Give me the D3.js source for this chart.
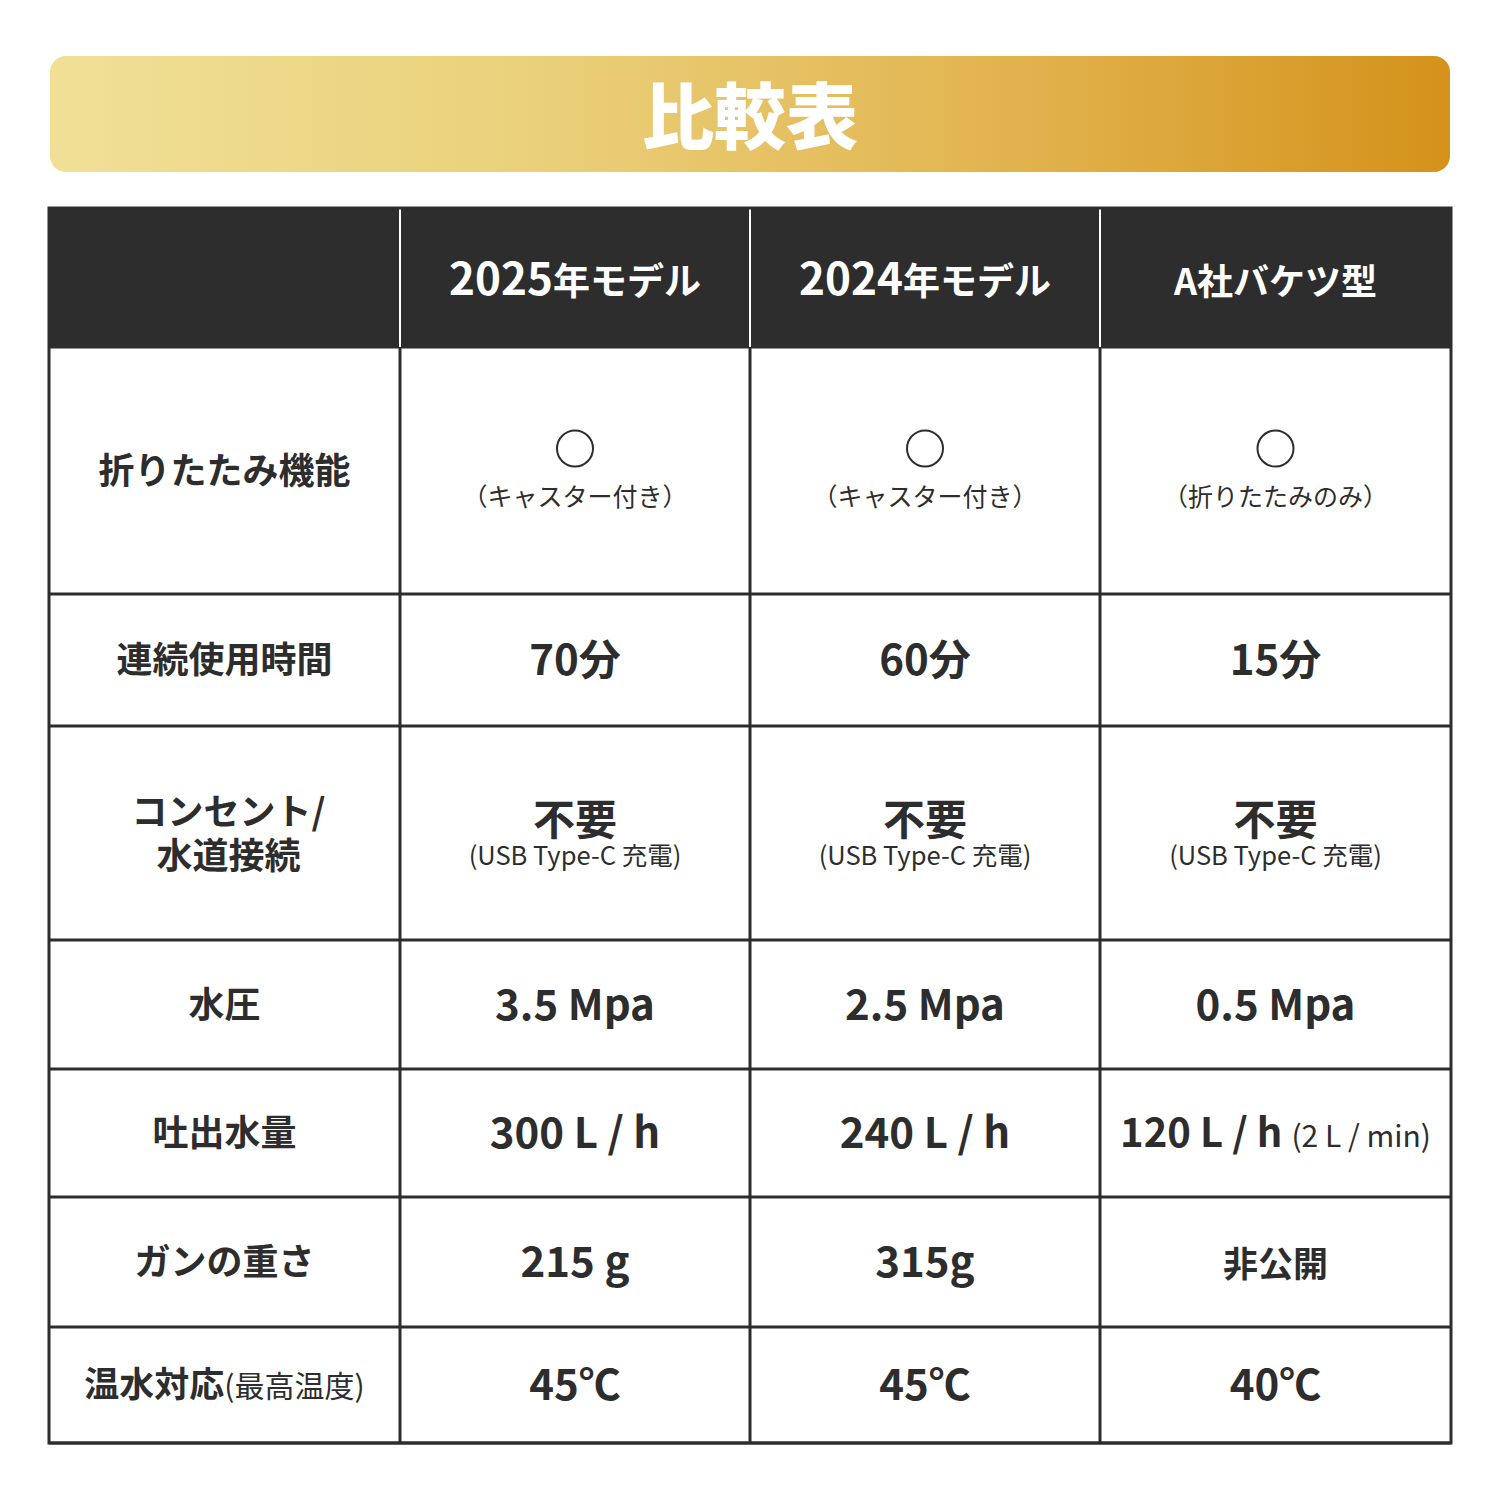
<!DOCTYPE html>
<html><head><meta charset="utf-8">
<script src="https://cdn.jsdelivr.net/npm/d3@7"></script>
<style>body{margin:0;background:#fff}svg{display:block}text{font-family:"Noto Sans CJK JP","Noto Sans",sans-serif}</style>
</head><body><svg id="c" width="1500" height="1500"></svg>
<script>
const title = "比較表";
const columns = ["", "2025年モデル", "2024年モデル", "A社バケツ型"];
const rowLabels = [["折りたたみ機能"], ["連続使用時間"], ["コンセント/", "水道接続"], ["水圧"], ["吐出水量"], ["ガンの重さ"], ["温水対応", "(最高温度)"]];
const model2025 = ["○|（キャスター付き）", "70分", "不要|(USB Type-C 充電)", "3.5 Mpa", "300 L / h", "215 g", "45℃"];
const model2024 = ["○|（キャスター付き）", "60分", "不要|(USB Type-C 充電)", "2.5 Mpa", "240 L / h", "315g", "45℃"];
const bucketA = ["○|（折りたたみのみ）", "15分", "不要|(USB Type-C 充電)", "0.5 Mpa", "120 L / h|(2 L / min)", "非公開", "40℃"];
const series = [model2025, model2024, bucketA];

const svg = d3.select("#c");
const defs = svg.append("defs");
const g = defs.append("linearGradient").attr("id","gold");
[[0,"#f0e096"],[0.35,"#ead07a"],[0.7,"#e1b24c"],[1,"#d4921a"]].forEach(([o,c])=>g.append("stop").attr("offset",o).attr("stop-color",c));
svg.append("rect").attr("x",50).attr("y",56).attr("width",1400).attr("height",116).attr("rx",16).attr("fill","url(#gold)");
svg.append("text").attr("x",750).attr("y",143).attr("text-anchor","middle").attr("font-size",72).attr("font-weight",900).attr("fill","#fff").text(title);

const colEdges = [49, 400, 750, 1100, 1451];
const rowEdges = [208, 347, 594, 726, 940, 1069, 1197, 1327, 1443];
const x = i => colEdges[i], y = i => rowEdges[i];
const cx = i => (x(i)+x(i+1))/2, cy = i => (y(i)+y(i+1))/2;
const ink = "#2d2d2d";

svg.append("rect").attr("x",x(0)).attr("y",y(0)).attr("width",x(4)-x(0)).attr("height",y(1)-y(0)).attr("fill",ink);
for (let r=1;r<rowEdges.length;r++) svg.append("line").attr("x1",x(0)).attr("x2",x(4)).attr("y1",y(r)).attr("y2",y(r)).attr("stroke",ink).attr("stroke-width",3);
colEdges.forEach((cx0,i)=>{
  svg.append("line").attr("x1",cx0).attr("x2",cx0).attr("y1",y(0)).attr("y2",y(8)).attr("stroke",(i>0&&i<4)?"#fff":ink).attr("stroke-width",2);
  if(i>0&&i<4) svg.append("line").attr("x1",cx0).attr("x2",cx0).attr("y1",y(1)).attr("y2",y(8)).attr("stroke",ink).attr("stroke-width",3);
});
svg.append("rect").attr("x",x(0)).attr("y",y(0)).attr("width",x(4)-x(0)).attr("height",y(8)-y(0)).attr("fill","none").attr("stroke",ink).attr("stroke-width",3);

columns.forEach((c,i)=>{ if(!c) return;
  const t = svg.append("text").attr("x",cx(i)).attr("y",y(0)+87).attr("text-anchor","middle").attr("fill","#fff").attr("font-weight",700);
  const m = c.match(/^(\d+)(.*)$/);
  if(m){ t.append("tspan").attr("font-size",44).text(m[1]); t.append("tspan").attr("font-size",37).text(m[2]); }
  else t.attr("font-size",36).text(c);
});

rowLabels.forEach((lab,r)=>{
  const yc = cy(r+1);
  if (r===6) {
    const t = svg.append("text").attr("x",cx(0)).attr("y",yc+12).attr("text-anchor","middle").attr("fill",ink);
    t.append("tspan").attr("font-size",35).attr("font-weight",700).text(lab[0]);
    t.append("tspan").attr("font-size",30).attr("font-weight",400).text(lab[1]);
  } else if (lab.length===2) {
    lab.forEach((l,k)=>svg.append("text").attr("x",cx(0)+4).attr("y",yc-8+k*44).attr("text-anchor","middle").attr("font-size",36).attr("font-weight",700).attr("fill",ink).text(l));
  } else {
    svg.append("text").attr("x",cx(0)).attr("y",yc+13).attr("text-anchor","middle").attr("font-size",36).attr("font-weight",700).attr("fill",ink).text(lab[0]);
  }
});

series.forEach((vals,ci)=>{
  const xc = cx(ci+1);
  vals.forEach((v,r)=>{
    const yc = cy(r+1);
    const [main, sub] = v.split("|");
    if (main==="○") {
      svg.append("circle").attr("cx",xc).attr("cy",yc-22).attr("r",18).attr("fill","none").attr("stroke",ink).attr("stroke-width",2);
      svg.append("text").attr("x",xc).attr("y",yc+35).attr("text-anchor","middle").attr("font-size",25).attr("fill",ink).text(sub);
    } else if (main==="不要") {
      svg.append("text").attr("x",xc).attr("y",yc+2).attr("text-anchor","middle").attr("font-size",42).attr("font-weight",700).attr("fill",ink).text(main);
      svg.append("text").attr("x",xc).attr("y",yc+32).attr("text-anchor","middle").attr("font-size",25.5).attr("fill",ink).text(sub);
    } else if (sub) {
      const t = svg.append("text").attr("x",xc).attr("y",yc+14).attr("text-anchor","middle").attr("fill",ink);
      t.append("tspan").attr("font-size",40).attr("font-weight",700).text(main+" ");
      t.append("tspan").attr("font-size",30).attr("font-weight",400).text(sub);
    } else {
      const cjk = /^[\u4e00-\u9fff]+$/.test(main);
      svg.append("text").attr("x",xc).attr("y",yc+15).attr("text-anchor","middle").attr("font-size",cjk?35:42).attr("font-weight",700).attr("fill",ink).text(main);
    }
  });
});
</script></body></html>
